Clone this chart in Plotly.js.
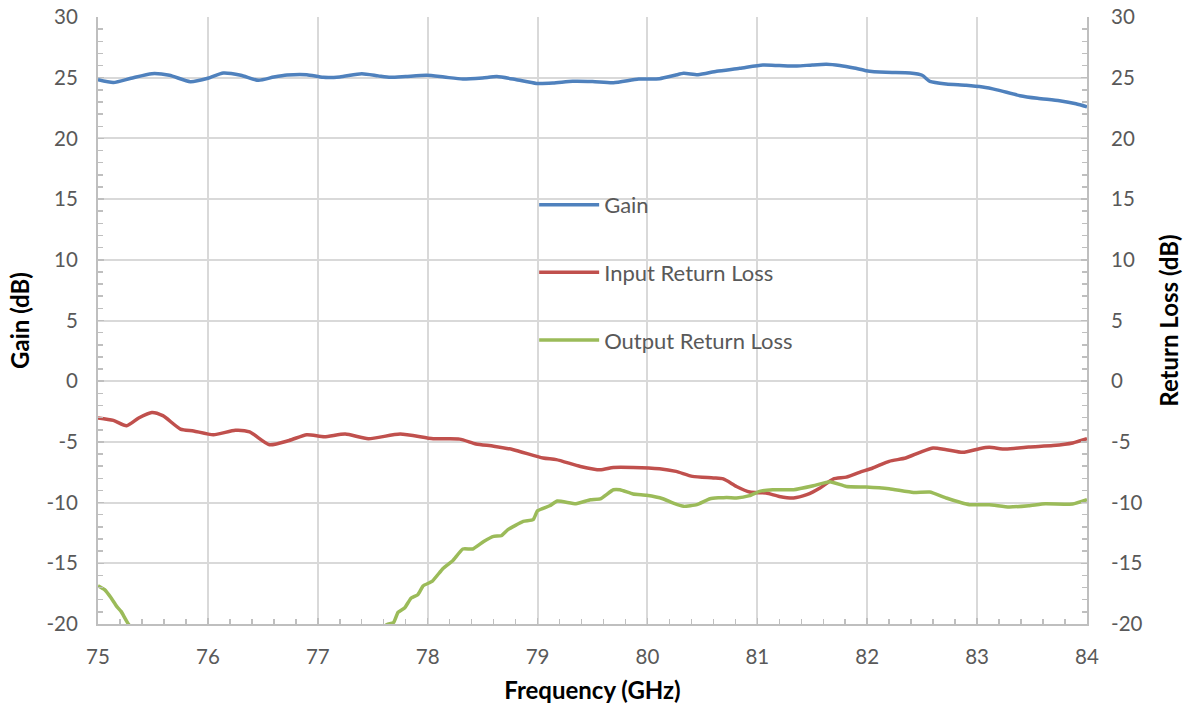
<!DOCTYPE html>
<html>
<head>
<meta charset="utf-8">
<script src="https://cdn.plot.ly/plotly-3.0.1.min.js"></script>
<style>html,body{margin:0;padding:0;background:#fff;}#chart{width:1187px;height:709px;}</style>
</head>
<body>
<div id="chart"></div>
<script>
// Gain (dB) vs frequency (GHz)
const gainFreq = [75.0,75.14,75.3,75.49,75.65,75.84,76.0,76.14,76.3,76.46,76.6,76.72,76.9,77.05,77.2,77.4,77.55,77.66,77.8,77.99,78.15,78.32,78.5,78.63,78.8,78.99,79.14,79.32,79.5,79.69,79.92,80.11,80.25,80.33,80.46,80.63,80.84,81.05,81.2,81.36,81.5,81.63,81.75,81.88,81.99,82.17,82.39,82.5,82.57,82.72,82.9,83.05,83.18,83.39,83.55,83.75,83.9,84.0];
const gainDb   = [24.83,24.6,24.95,25.33,25.2,24.67,24.95,25.39,25.2,24.78,25.05,25.22,25.25,25.03,25.06,25.33,25.15,25.03,25.1,25.2,25.05,24.89,24.98,25.09,24.85,24.53,24.56,24.7,24.68,24.59,24.89,24.92,25.2,25.36,25.25,25.53,25.77,26.04,26.0,25.96,26.05,26.1,26.0,25.8,25.58,25.44,25.39,25.2,24.7,24.48,24.38,24.23,24.0,23.52,23.3,23.1,22.85,22.6];

// Input return loss (dB)
const inFreq = [75.0,75.14,75.26,75.37,75.49,75.59,75.75,75.87,76.05,76.25,76.38,76.56,76.74,76.9,77.06,77.25,77.46,77.75,78.05,78.29,78.44,78.6,78.78,79.05,79.17,79.39,79.57,79.69,79.87,80.11,80.26,80.41,80.6,80.69,80.81,80.93,81.08,81.2,81.33,81.45,81.57,81.69,81.81,81.93,82.05,82.2,82.35,82.48,82.6,82.72,82.87,83.02,83.11,83.26,83.47,83.69,83.87,84.0];
const inRL   = [-3.03,-3.23,-3.67,-3.03,-2.57,-2.84,-3.94,-4.1,-4.41,-4.05,-4.18,-5.23,-4.88,-4.41,-4.57,-4.35,-4.74,-4.35,-4.74,-4.77,-5.17,-5.35,-5.64,-6.33,-6.46,-7.02,-7.3,-7.1,-7.1,-7.21,-7.43,-7.84,-7.97,-8.05,-8.67,-9.13,-9.21,-9.49,-9.62,-9.35,-8.8,-8.06,-7.9,-7.51,-7.15,-6.6,-6.33,-5.86,-5.5,-5.64,-5.86,-5.56,-5.45,-5.59,-5.42,-5.3,-5.09,-4.74];

// Output return loss (dB); part of the trace falls below the -20 dB axis limit
const outFreq = [75.0,75.06,75.12,75.17,75.21,75.28,75.5,75.9,76.3,76.7,77.1,77.4,77.63,77.69,77.73,77.79,77.85,77.91,77.96,78.04,78.14,78.23,78.32,78.41,78.51,78.6,78.67,78.73,78.87,78.96,79.0,79.11,79.18,79.35,79.48,79.57,79.69,79.75,79.87,79.99,80.14,80.23,80.33,80.45,80.57,80.72,80.81,80.93,81.02,81.14,81.33,81.51,81.66,81.81,81.99,82.2,82.42,82.57,82.72,82.93,83.11,83.29,83.47,83.62,83.87,84.0];
const outRL   = [-16.85,-17.17,-17.86,-18.55,-18.96,-20.05,-22,-25,-26,-25,-23,-21.5,-20.05,-19.87,-19.04,-18.68,-17.86,-17.59,-16.85,-16.49,-15.42,-14.76,-13.82,-13.82,-13.2,-12.78,-12.73,-12.23,-11.55,-11.41,-10.67,-10.26,-9.87,-10.09,-9.77,-9.7,-8.94,-8.94,-9.29,-9.4,-9.68,-10.03,-10.31,-10.17,-9.68,-9.57,-9.62,-9.43,-9.08,-8.94,-8.94,-8.61,-8.28,-8.67,-8.72,-8.86,-9.16,-9.13,-9.62,-10.17,-10.17,-10.36,-10.25,-10.09,-10.12,-9.76];

const seriesNames = ['Gain','Input Return Loss','Output Return Loss'];
const xTicks = [75,76,77,78,79,80,81,82,83,84];
const yTicks = [-20,-15,-10,-5,0,5,10,15,20,25,30];

const font = 'Lato, "Open Sans", "DejaVu Sans", sans-serif';
const tickFont = {family: font, size: 20.5, color: '#595959'};
const titleFont = {family: font, size: 24, color: '#000000', weight: 'bold'};

const traces = [
  {x: gainFreq, y: gainDb, name: seriesNames[0], type: 'scatter', mode: 'lines',
   line: {color: '#4f81bd', width: 3.5, shape: 'spline', smoothing: 0.6}, legendgroup: 'g1', yaxis: 'y'},
  {x: inFreq, y: inRL, name: seriesNames[1], type: 'scatter', mode: 'lines',
   line: {color: '#c0504d', width: 3.5, shape: 'spline', smoothing: 0.6}, legendgroup: 'g2', yaxis: 'y2'},
  {x: outFreq, y: outRL, name: seriesNames[2], type: 'scatter', mode: 'lines',
   line: {color: '#9bbb59', width: 3.5, shape: 'spline', smoothing: 0.4}, legendgroup: 'g3', yaxis: 'y2'}
];

const axisCommon = {
  showline: true, linecolor: '#bfbfbf', linewidth: 2,
  showgrid: true, gridcolor: '#d9d9d9', gridwidth: 2,
  ticks: 'inside', ticklen: 6, tickcolor: '#bfbfbf', tickwidth: 1.5,
  zeroline: false, tickfont: tickFont
};

const layout = {
  width: 1187, height: 709,
  margin: {l: 98, r: 100, t: 17, b: 85},
  paper_bgcolor: '#ffffff', plot_bgcolor: '#ffffff',
  showlegend: true,
  legend: {x: 0.441, y: 0.725, xanchor: 'left', yanchor: 'top', bgcolor: 'rgba(0,0,0,0)',
           font: {family: font, size: 22, color: '#595959'}, tracegroupgap: 36, itemwidth: 60},
  xaxis: Object.assign({}, axisCommon, {
    range: [75, 84], tickvals: xTicks, ticktext: xTicks.map(String),
    ticklabelstandoff: 13,
    minor: {ticks: 'inside', dtick: 0.2, ticklen: 5, tickcolor: '#bfbfbf', showgrid: false},
    title: {text: 'Frequency (GHz)', font: titleFont, standoff: 16}
  }),
  yaxis: Object.assign({}, axisCommon, {
    range: [-20, 30], tickvals: yTicks, ticktext: yTicks.map(String),
    ticklabelstandoff: 14,
    minor: {ticks: 'inside', dtick: 1, ticklen: 5, tickcolor: '#bfbfbf', showgrid: false},
    title: {text: 'Gain (dB)', font: titleFont, standoff: 10}
  }),
  yaxis2: Object.assign({}, axisCommon, {
    range: [-20, 30], tickvals: yTicks, ticktext: yTicks.map(String),
    overlaying: 'y', side: 'right', showgrid: false,
    ticklabelstandoff: 18,
    minor: {ticks: 'inside', dtick: 1, ticklen: 5, tickcolor: '#bfbfbf', showgrid: false},
    title: {text: 'Return Loss (dB)', font: titleFont, standoff: 20}
  })
};

Plotly.newPlot('chart', traces, layout, {displayModeBar: false, staticPlot: true});
</script>
</body>
</html>
